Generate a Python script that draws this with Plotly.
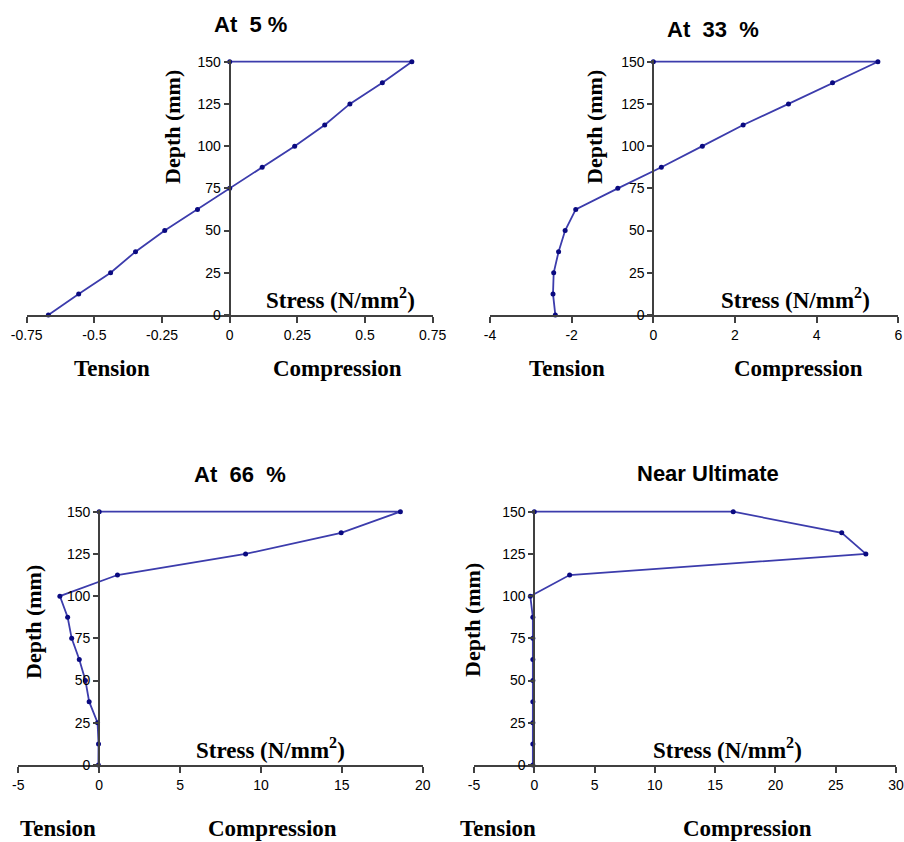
import plotly.graph_objects as go

W, H = 904, 842

# ---------------- data ----------------
depth = [0, 12.5, 25, 37.5, 50, 62.5, 75, 87.5, 100, 112.5, 125, 137.5, 150, 150]

stress_5 = [-0.67, -0.558, -0.44, -0.348, -0.24, -0.119, 0.0, 0.12, 0.24, 0.351, 0.444, 0.564, 0.673, 0.0]
stress_33 = [-2.40, -2.457, -2.44, -2.32, -2.16, -1.90, -0.87, 0.196, 1.20, 2.20, 3.31, 4.39, 5.50, 0.0]
stress_66 = [-0.05, -0.04, -0.10, -0.62, -0.85, -1.23, -1.70, -1.95, -2.43, 1.13, 9.05, 14.96, 18.62, 0.0]
stress_ult = [-0.12, -0.12, -0.12, -0.12, -0.12, -0.12, -0.12, -0.12, -0.33, 2.93, 27.5, 25.5, 16.5, 0.0]

titles = ["At\u00a0 5 %", "At\u00a0 33\u00a0 %", "At\u00a0 66\u00a0 %", "Near Ultimate"]

x_ranges = [[-0.75, 0.75], [-4, 6], [-5, 20], [-5, 30]]
x_tickvals = [
    [-0.75, -0.5, -0.25, 0, 0.25, 0.5, 0.75],
    [-4, -2, 0, 2, 4, 6],
    [-5, 0, 5, 10, 15, 20],
    [-5, 0, 5, 10, 15, 20, 25, 30],
]
x_ticktext = [
    ["-0.75", "-0.5", "-0.25", "0", "0.25", "0.5", "0.75"],
    ["-4", "-2", "0", "2", "4", "6"],
    ["-5", "0", "5", "10", "15", "20"],
    ["-5", "0", "5", "10", "15", "20", "25", "30"],
]
y_tickvals = [0, 25, 50, 75, 100, 125, 150]
y_ticktext = ["0", "25", "50", "75", "100", "125", "150"]
y_range = [0, 151]

series = [stress_5, stress_33, stress_66, stress_ult]

# ---------------- layout geometry (pixels) ----------------
# ytop / ybot are the pixel rows of depth 150 and depth 0
panels = [
    dict(x0=26.7, x1=432.7, ytop=61.7, ybot=315.0,
         title=(250, 25), depth=(173, 127), stress=(340, 298), tension=(112, 368), comp=(337, 368)),
    dict(x0=490.0, x1=898.3, ytop=61.7, ybot=315.0,
         title=(713, 29), depth=(595, 127), stress=(795, 298), tension=(567, 368), comp=(798, 368)),
    dict(x0=18.3, x1=422.7, ytop=511.7, ybot=765.0,
         title=(240, 474), depth=(33, 622), stress=(270, 748), tension=(58, 828), comp=(272, 828)),
    dict(x0=474.0, x1=896.0, ytop=511.7, ybot=765.0,
         title=(708, 473), depth=(472, 620), stress=(727, 748), tension=(498, 828), comp=(747, 828)),
]

LINE_COL = "#3c3cac"
MARK_COL = "#0a0a80"
AXIS_COL = "#404040"
SANS = "Liberation Sans, Arial, sans-serif"
SERIF = "Liberation Serif, Times New Roman, serif"

fig = go.Figure()
annotations = []
layout = dict(
    width=W, height=H,
    margin=dict(l=0, r=0, t=0, b=0, autoexpand=False),
    paper_bgcolor="white", plot_bgcolor="white",
    showlegend=False,
)


def px(x):
    return x / W


def py(y):
    return 1 - y / H


for i, (p, s) in enumerate(zip(panels, series)):
    k = "" if i == 0 else str(i + 1)
    xr = x_ranges[i]
    xdom = [px(p["x0"]), px(p["x1"])]
    per_unit = (p["ybot"] - p["ytop"]) / 150.0
    ytop_px = p["ybot"] - per_unit * y_range[1]
    ydom = [py(p["ybot"]), py(ytop_px)]
    ypos = xdom[0] + (0 - xr[0]) / (xr[1] - xr[0]) * (xdom[1] - xdom[0])

    fig.add_trace(go.Scatter(
        x=s, y=depth, xaxis="x" + k, yaxis="y" + k,
        mode="lines+markers", cliponaxis=False,
        line=dict(color=LINE_COL, width=1.8),
        marker=dict(color=MARK_COL, size=5),
        hoverinfo="skip",
    ))

    layout["xaxis" + k] = dict(
        domain=xdom, range=xr, anchor="y" + k, automargin=False,
        tickmode="array", tickvals=x_tickvals[i], ticktext=x_ticktext[i],
        ticks="outside", ticklen=6, tickwidth=1.5, tickcolor=AXIS_COL,
        showline=True, linecolor=AXIS_COL, linewidth=2,
        showgrid=False, zeroline=False,
        tickfont=dict(family=SANS, size=14, color="black"),
        fixedrange=True,
    )
    layout["yaxis" + k] = dict(
        domain=ydom, range=y_range, anchor="free", position=ypos, automargin=False,
        tickmode="array", tickvals=y_tickvals, ticktext=y_ticktext,
        ticks="outside", ticklen=5, tickwidth=1.5, tickcolor=AXIS_COL,
        showline=True, linecolor=AXIS_COL, linewidth=2,
        showgrid=False, zeroline=False,
        tickfont=dict(family=SANS, size=14, color="black"),
        fixedrange=True,
    )

    annotations.append(dict(
        text="<b>" + titles[i] + "</b>", x=px(p["title"][0]), y=py(p["title"][1]),
        xref="paper", yref="paper", xanchor="center", yanchor="middle", showarrow=False,
        font=dict(family=SANS, size=22, color="black"),
    ))
    annotations.append(dict(
        text="<b>Depth (mm)</b>", x=px(p["depth"][0]), y=py(p["depth"][1]),
        xref="paper", yref="paper", xanchor="center", yanchor="middle", showarrow=False,
        textangle=-90, font=dict(family=SERIF, size=22, color="black"),
    ))
    annotations.append(dict(
        text="<b>Stress (N/mm<sup>2</sup>)</b>", x=px(p["stress"][0]), y=py(p["stress"][1]),
        xref="paper", yref="paper", xanchor="center", yanchor="middle", showarrow=False,
        font=dict(family=SERIF, size=23, color="black"),
    ))
    annotations.append(dict(
        text="<b>Tension</b>", x=px(p["tension"][0]), y=py(p["tension"][1]),
        xref="paper", yref="paper", xanchor="center", yanchor="middle", showarrow=False,
        font=dict(family=SERIF, size=23, color="black"),
    ))
    annotations.append(dict(
        text="<b>Compression</b>", x=px(p["comp"][0]), y=py(p["comp"][1]),
        xref="paper", yref="paper", xanchor="center", yanchor="middle", showarrow=False,
        font=dict(family=SERIF, size=23, color="black"),
    ))

layout["annotations"] = annotations
fig.update_layout(**layout)
fig.write_html(
    "out.html",
    config={"displayModeBar": False},
    post_script="document.body.style.margin='0';document.body.style.overflow='hidden';",
)
